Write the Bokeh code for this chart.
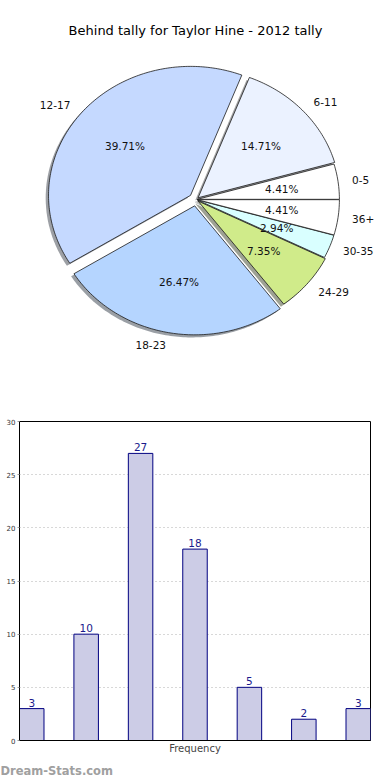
import numpy as np
from bokeh.plotting import figure
from bokeh.models import Range1d
from bokeh.embed import file_html
from bokeh.resources import INLINE
from bokeh.core.properties import value

# ---------------- data ----------------
title_text = "Behind tally for Taylor Hine - 2012 tally"
categories = ["0-5", "6-11", "12-17", "18-23", "24-29", "30-35", "36+"]
counts = [3, 10, 27, 18, 5, 2, 3]
slice_colors = ["#ffffff", "#ebf2ff", "#c5d9ff", "#b5d5ff", "#d0eb8a", "#d9ffff", "#ffffff"]
explode = [0.01, 0.02, 0.05, 0.05, 0.02, 0.01, 0.01]
y_ticks = [0, 5, 10, 15, 20, 25, 30]
x_label = "Frequency"
watermark = "Dream-Stats.com"

FONT = "DejaVu Sans"
W = 382
PIE_H = 396
BAR_H = 362
WM_H = 20
cx, cy, rx, ry = 195.5, 199.0, 142.0, 129.0

# ---------------- pie ----------------
pie = figure(width=W, height=PIE_H,
             x_range=Range1d(-cx / rx, (W - cx) / rx),
             y_range=Range1d(-(PIE_H - cy) / ry, cy / ry),
             x_axis_location=None, y_axis_location=None,
             output_backend="svg", toolbar_location=None, min_border=0)
pie.grid.visible = False
pie.outline_line_color = None

total = float(sum(counts))
fracs = [c / total for c in counts]
starts = np.cumsum([0.0] + fracs[:-1]) * 2 * np.pi

wx, wy, shx, shy, shc = [], [], [], [], []
lab_l, lab_r, pct = [], [], []
for cat, f, s, e, col in zip(categories, fracs, starts, explode, slice_colors):
    sweep = f * 2 * np.pi
    t = np.linspace(s, s + sweep, max(8, int(f * 360)))
    mid = s + sweep / 2
    ox, oy = e * np.cos(mid), e * np.sin(mid)
    px = [ox] + list(ox + np.cos(t))
    py = [oy] + list(oy + np.sin(t))
    wx.append(px); wy.append(py)
    shx.append([v - 0.02 for v in px]); shy.append([v - 0.02 for v in py])
    r, g, b = int(col[1:3], 16), int(col[3:5], 16), int(col[5:7], 16)
    shc.append("#%02x%02x%02x" % (int(r * 0.3), int(g * 0.3), int(b * 0.3)))
    lx, ly = ox + 1.1 * np.cos(mid), oy + 1.1 * np.sin(mid)
    (lab_l if np.cos(mid) >= 0 else lab_r).append((lx, ly, cat))
    pct.append((ox + 0.6 * np.cos(mid), oy + 0.6 * np.sin(mid), "%.2f%%" % (f * 100)))

pie.patches(xs=shx, ys=shy, fill_color=shc, fill_alpha=0.5, line_color=None)
pie.patches(xs=wx, ys=wy, fill_color=slice_colors, line_color="#1a1a1a", line_width=0.8)

for grp, al in ((lab_l, "left"), (lab_r, "right")):
    pie.text(x=[g[0] for g in grp], y=[g[1] for g in grp], text=[g[2] for g in grp],
             text_align=al, text_baseline="middle", text_font=value(FONT),
             text_font_size="10.5px", text_color="#111111")
pie.text(x=[g[0] for g in pct], y=[g[1] for g in pct], text=[g[2] for g in pct],
         text_align="center", text_baseline="middle", text_font=value(FONT),
         text_font_size="10.5px", text_color="#111111")
pie.text(x=[(195 - cx) / rx], y=[(cy - 30) / ry], text=[title_text], text_align="center",
         text_baseline="middle", text_font=value(FONT), text_font_size="13px",
         text_color="#000000")

# ---------------- bars ----------------
idx = list(range(len(categories)))
bar = figure(width=W, height=BAR_H, x_range=Range1d(-0.225, len(categories) - 1 + 0.225),
             y_range=Range1d(y_ticks[0], y_ticks[-1]),
             output_backend="svg", toolbar_location=None,
             min_border_left=19, min_border_right=12, min_border_top=25, min_border_bottom=18)
bar.vbar(x=idx, top=counts, width=0.45, fill_color="#ccccE6", line_color="#000080", line_width=1)
bar.text(x=idx, y=counts, text=[str(c) for c in counts], y_offset=-2,
         text_align="center", text_baseline="bottom", text_font=value(FONT),
         text_font_size="10.5px", text_color="#1a1a8c")

bar.xgrid.visible = False
bar.ygrid.grid_line_color = "#b0b0b0"
bar.ygrid.grid_line_dash = "1 3"
bar.ygrid.grid_line_width = 1.2
bar.ygrid.ticker = y_ticks
bar.outline_line_color = "black"
bar.outline_line_width = 1

bar.xaxis.ticker = []
bar.xaxis.major_tick_out = 0
bar.xaxis.major_tick_in = 0
bar.xaxis.minor_tick_out = 0
bar.xaxis.axis_label = x_label
bar.xaxis.axis_label_text_font = FONT
bar.xaxis.axis_label_text_font_style = "normal"
bar.xaxis.axis_label_text_font_size = "10px"
bar.xaxis.axis_label_standoff = 2
bar.xaxis.axis_line_color = "black"

bar.yaxis.ticker = y_ticks
bar.yaxis.major_label_text_font = FONT
bar.yaxis.major_label_text_font_size = "7px"
bar.yaxis.major_label_text_color = "#333333"
bar.yaxis.major_label_standoff = 2
bar.yaxis.major_tick_out = 2
bar.yaxis.major_tick_in = 0
bar.yaxis.minor_tick_out = 0
bar.yaxis.minor_tick_in = 0
bar.yaxis.axis_line_color = "black"
bar.yaxis.major_tick_line_color = "#999999"

# ---------------- watermark ----------------
wm = figure(width=W, height=WM_H, x_range=Range1d(0, W), y_range=Range1d(0, WM_H),
            x_axis_location=None, y_axis_location=None,
            output_backend="svg", toolbar_location=None, min_border=0)
wm.grid.visible = False
wm.outline_line_color = None
wm.text(x=[0], y=[WM_H - 12], text=[watermark], text_align="left", text_baseline="middle",
        text_font=value(FONT), text_font_size="11.5px", text_font_style="bold",
        text_color="#a0a0a0")

# separate roots: no shared layout, so frames are not aligned to each other
open("out.html", "w").write(file_html([pie, bar, wm], INLINE))
